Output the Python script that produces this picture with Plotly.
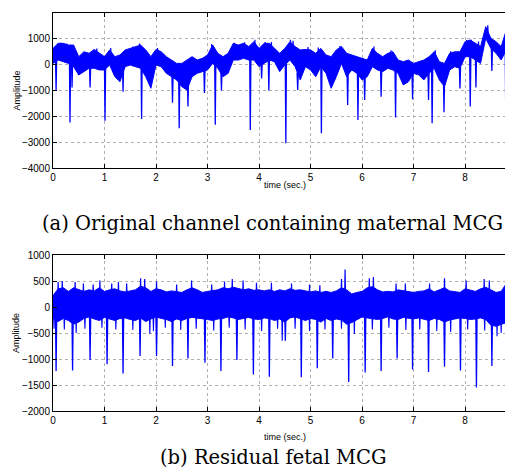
import plotly.graph_objects as go

# ---------------- data ----------------
t_env = [round(i * 0.1, 1) for i in range(90)]  # 0.0 .. 8.9 s

# (a) original channel: upper / lower edge of the dense trace band
a_hi = [630, 825, 825, 760, 760, 310, 500, 440, 590, 440,
        310, 570, 310, 375, 570, 630, 700, 760, 570, 310,
        590, 500, 310, 180, 50, 50, 180, 310, 180, 245,
        375, 760, 440, 310, 440, 825, 760, 825, 700, 890,
        630, 825, 825, 630, 440, 630, 890, 700, 570, 590,
        570, 440, 630, 375, 310, 570, 700, 440, 375, 310,
        245, 180, 630, 440, 310, 440, 500, 180, 115, 180,
        50, 115, 180, 310, 500, 115, 50, 440, 500, 500,
        890, 955, 825, 700, 1470, 1020, 890, 700, 1340, 1470]
a_lo = [50, 180, 115, 50, -77, -400, -270, -140, -140, -205,
        -205, -13, -465, -660, -77, -13, -77, -140, -465, -915,
        -13, -77, -335, -465, -590, -850, -980, -465, -335, -270,
        -205, 50, -140, -465, -335, 180, 180, 245, 180, 180,
        -77, 50, 180, 115, -270, -13, 180, -77, -590, -77,
        -205, -465, -77, -335, -915, -465, 50, -465, -205, -335,
        -590, -465, -77, -205, -270, -140, -205, -335, -785, -660,
        -335, -400, -590, -335, -140, -590, -850, -205, -77, -140,
        310, 310, 180, 50, 1020, 630, 440, 180, 570, 825]

# (a) downward spikes: time, minimum, level of band where spike starts
a_spk_t = [0.06, 0.33, 0.37, 0.72, 1.01, 1.36, 1.72, 2.32, 2.45, 2.62,
           2.94, 3.15, 3.27, 3.83, 4.05, 4.19, 4.52, 4.75, 5.21, 5.72,
           5.92, 6.05, 6.37, 6.65, 6.98, 7.29, 7.36, 7.59, 7.90, 8.10,
           8.21, 8.52, 8.79]
a_spk_min = [-980, -2240, -880, -880, -2170, -1050, -2100, -1470, -2460, -1620,
             -1100, -2330, -1000, -2530, -530, -1000, -3040, -980, -2650, -1560,
             -2140, -1370, -1240, -2040, -1340, -1370, -2270, -1840, -920, -1620,
             -880, -245, -2140]
a_spk_base = [300, 400, 200, 0, 100, 100, 300, -300, -200, -500,
              -100, 300, -200, 400, 100, 300, 300, -300, 200, -200,
              -100, -300, -100, 0, -200, -200, 0, -400, -100, 400,
              400, 700, 700]

# (a) upward peaks on the band's top edge
a_up_t = [0.15, 0.27, 0.85, 1.12, 1.55, 1.68, 2.03, 3.08, 3.52, 3.72,
          3.92, 4.12, 4.24, 4.61, 4.66, 4.95, 5.15, 5.57, 6.23, 6.56,
          7.42, 7.72, 8.03, 8.12, 8.26, 8.44, 8.86]
a_up_max = [850, 820, 620, 640, 700, 820, 640, 800, 850, 870,
            960, 880, 880, 960, 920, 680, 660, 720, 700, 560,
            560, 520, 950, 960, 900, 1520, 1520]
a_up_base = [400, 400, 200, 200, 300, 400, 200, 300, 500, 500,
             500, 500, 500, 500, 500, 200, 200, 300, 300, 200,
             200, 200, 500, 500, 500, 1100, 1000]

# (b) residual fetal MCG: band edges
b_hi = [220, 350, 370, 300, 370, 330, 300, 330, 310, 370,
        300, 330, 350, 310, 290, 310, 330, 400, 370, 300,
        350, 330, 290, 310, 300, 280, 330, 370, 330, 280,
        300, 310, 330, 370, 350, 380, 350, 330, 350, 320,
        330, 310, 330, 300, 330, 310, 350, 320, 330, 310,
        290, 310, 280, 300, 280, 310, 370, 330, 250, 280,
        300, 370, 390, 330, 290, 300, 290, 330, 310, 290,
        280, 300, 310, 350, 290, 330, 370, 310, 300, 280,
        350, 320, 300, 350, 380, 330, 280, 300, 450, 400]
b_lo = [-220, -280, -220, -260, -330, -290, -220, -190, -230, -260,
        -200, -230, -260, -220, -210, -240, -260, -210, -280, -230,
        -190, -220, -240, -280, -230, -260, -220, -200, -210, -230,
        -240, -260, -230, -220, -190, -210, -240, -220, -200, -230,
        -240, -210, -220, -260, -230, -290, -210, -190, -230, -260,
        -220, -240, -290, -220, -260, -230, -250, -330, -300, -250,
        -190, -210, -220, -240, -220, -190, -230, -240, -200, -220,
        -230, -210, -240, -260, -220, -240, -290, -250, -230, -210,
        -220, -240, -230, -210, -240, -350, -370, -330, -300, -240]

# (b) downward (fetal QRS) spikes
b_spk_t = [0.06, 0.38, 0.72, 1.05, 1.36, 1.69, 2.01, 2.32, 2.62, 2.95,
           3.26, 3.57, 3.89, 4.20, 4.51, 4.82, 5.13, 5.43, 5.74, 6.06,
           6.37, 6.68, 6.98, 7.29, 7.60, 7.91, 8.22, 8.52, 8.83]
b_spk_min = [-1230, -1220, -1020, -1100, -1280, -940, -940, -1135, -990, -1070,
             -1230, -1020, -1300, -1340, -650, -1350, -1180, -990, -1440, -1260,
             -1230, -990, -1200, -1250, -1150, -1220, -1550, -1135, -715]
b_spk_base = [-150] * len(b_spk_t)

# (b) smaller downward dips of the noise
b_dip_t = [0.02, 0.22, 0.45, 0.62, 0.95, 1.22, 1.55, 1.88, 1.95, 2.18,
           2.48, 2.78, 3.12, 3.42, 3.73, 4.05, 4.36, 4.45, 4.70, 4.98,
           5.28, 5.60, 5.85, 6.20, 6.52, 6.85, 7.12, 7.45, 7.72, 8.05,
           8.38, 8.62, 8.70, 8.90]
b_dip_min = [-420, -430, -500, -420, -400, -430, -440, -520, -460, -400,
             -440, -420, -450, -400, -430, -460, -420, -650, -420, -460,
             -430, -420, -520, -430, -400, -440, -430, -460, -480, -430,
             -450, -560, -500, -500]
b_dip_base = [-100] * len(b_dip_t)

# (b) upward noise peaks
b_up_t = [0.10, 0.18, 0.43, 0.59, 0.78, 0.91, 1.14, 1.27, 1.43, 1.70,
          1.78, 2.01, 2.40, 2.69, 3.08, 3.33, 3.48, 3.69, 3.95, 4.24,
          4.63, 4.98, 5.18, 5.60, 5.67, 6.14, 6.22, 6.66, 6.84, 7.31,
          7.60, 8.02, 8.37, 8.47, 8.83, 8.89]
b_up_max = [480, 500, 480, 450, 430, 510, 450, 480, 450, 555,
            540, 490, 430, 510, 430, 490, 540, 510, 465, 465,
            450, 430, 420, 540, 720, 555, 575, 450, 450, 450,
            555, 510, 540, 510, 770, 510]
b_up_base = [150] * len(b_up_t)

x_ticks = [0, 1, 2, 3, 4, 5, 6, 7, 8]
a_yticks = [-4000, -3000, -2000, -1000, 0, 1000, 2000]
b_yticks = [-2000, -1500, -1000, -500, 0, 500, 1000]

# ---------------- figure ----------------
BLUE = "#0000ff"
PAGE_OFF = 8          # default body margin of the html page
W, H = 513 - PAGE_OFF, 470 - PAGE_OFF


def px(X):            # window pixel -> paper x
    return (X - PAGE_OFF) / W


def py(Y):            # window pixel -> paper y
    return 1 - (Y - PAGE_OFF) / H


def spikes(ts, peaks, bases, half=0.012):
    xs, ys = [], []
    for t, p, b in zip(ts, peaks, bases):
        xs += [t - half, t, t + half, None]
        ys += [b, p, b, None]
    return xs, ys


fig = go.Figure()

panels = [
    ("x", "y", a_hi, a_lo,
     [(a_spk_t, a_spk_min, a_spk_base, 0.012, 1.3), (a_up_t, a_up_max, a_up_base, 0.01, 1.2)]),
    ("x2", "y2", b_hi, b_lo,
     [(b_spk_t, b_spk_min, b_spk_base, 0.012, 1.3), (b_dip_t, b_dip_min, b_dip_base, 0.01, 1.1),
      (b_up_t, b_up_max, b_up_base, 0.01, 1.2)]),
]
for xa, ya, hi, lo, spk_sets in panels:
    fig.add_trace(go.Scatter(x=t_env, y=hi, mode="lines", xaxis=xa, yaxis=ya,
                             line=dict(color=BLUE, width=1), showlegend=False))
    fig.add_trace(go.Scatter(x=t_env, y=lo, mode="lines", xaxis=xa, yaxis=ya,
                             fill="tonexty", fillcolor=BLUE,
                             line=dict(color=BLUE, width=1), showlegend=False))
    for st, sm, sb, half, lw in spk_sets:
        sx, sy = spikes(st, sm, sb, half)
        fig.add_trace(go.Scatter(x=sx, y=sy, mode="lines", xaxis=xa, yaxis=ya,
                                 line=dict(color=BLUE, width=lw), showlegend=False))

tickfont = dict(family="Liberation Sans, Arial, sans-serif", size=10, color="#000000")
common_axis = dict(showline=True, linecolor="#000000", linewidth=1, mirror="ticks",
                   ticks="inside", ticklen=4, tickcolor="#000000", tickwidth=1,
                   showgrid=True, gridcolor="#b0b0b0", griddash="dot", gridwidth=1,
                   zeroline=False, tickfont=tickfont, automargin=False)

fig.update_layout(
    width=W, height=H,
    margin=dict(l=0, r=0, t=0, b=0, pad=0, autoexpand=False),
    paper_bgcolor="white", plot_bgcolor="white",
    xaxis=dict(domain=[px(53), px(512.5)], range=[0, 8.92], tickvals=x_ticks, anchor="y",
               **common_axis),
    yaxis=dict(domain=[py(168), py(13)], range=[-4000, 2000], tickvals=a_yticks,
               anchor="x", **common_axis),
    xaxis2=dict(domain=[px(53), px(512.5)], range=[0, 8.92], tickvals=x_ticks, anchor="y2",
                **common_axis),
    yaxis2=dict(domain=[py(411), py(255)], range=[-2000, 1000], tickvals=b_yticks,
                anchor="x2", **common_axis),
)

lab = dict(family="Liberation Sans, Arial, sans-serif", size=9, color="#000000")
cap = dict(family="DejaVu Serif, serif", size=19.5, color="#000000")
ann = [
    dict(text="Amplitude", x=px(16), y=py(90.5), textangle=-90, font=lab),
    dict(text="time (sec.)", x=px(285), y=py(185), font=lab),
    dict(text="(a) Original channel containing maternal MCG", x=px(272), y=py(224), font=cap),
    dict(text="Amplitude", x=px(16), y=py(333), textangle=-90, font=lab),
    dict(text="time (sec.)", x=px(285), y=py(437), font=lab),
    dict(text="(b) Residual fetal MCG", x=px(273), y=py(457.5), font=cap, borderpad=0),
]
for a in ann:
    fig.add_annotation(xref="paper", yref="paper", showarrow=False,
                       xanchor="center", yanchor="middle", **a)

fig.write_html("out.html")
